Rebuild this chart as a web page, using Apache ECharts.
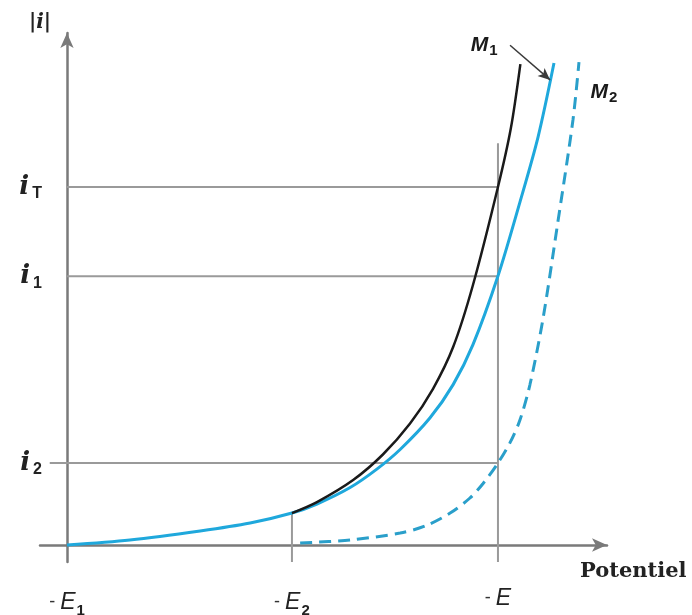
<!DOCTYPE html>
<html>
<head>
<meta charset="utf-8">
<script src="https://cdn.jsdelivr.net/npm/echarts@6/dist/echarts.min.js"></script>
<style>html,body{margin:0;padding:0;background:#fff}#c{width:692px;height:615px}</style>
</head>
<body>
<div id="c"></div>
<script>
// Potential axis: -E1 = 0, -E2 = 5.22, -E = 10 ; current axis 0..100 (arbitrary units)
const xTickValues = [0, 5.22, 10];
const xTickNames = ['E1', 'E2', 'E'];
const yTickValues = [16.1, 52.7, 70.2];
const yTickNames = ['2', '1', 'T'];

// Metal M1 (black), M1 (blue solid), M2 (blue dashed)
const curveBlack = [[5.22,6.27],[5.80,8.43],[6.64,12.75],[7.33,17.75],[7.96,23.82],[8.49,30.59],[8.96,38.82],[9.42,50.98],[10.00,70.20],[10.30,81.76],[10.52,94.31]];
const curveBlue = [[0,0],[1.46,0.98],[3.09,2.75],[4.25,4.31],[5.22,6.27],[5.80,8.04],[6.57,11.27],[7.19,14.88],[7.73,18.73],[8.42,24.90],[8.96,31.45],[9.42,39.29],[10.00,52.75],[10.51,67.25],[10.93,80.0],[11.30,94.51]];
const curveDashed = [[5.41,0.39],[6.57,0.98],[7.73,2.35],[8.31,3.73],[8.89,6.27],[9.35,9.22],[9.65,12.02],[10.00,16.08],[10.28,20.08],[10.51,24.51],[10.74,31.37],[11.04,44.12],[11.39,63.33],[11.74,83.33],[11.88,94.71]];

// guide lines
const guideVE = [[10,-3.33],[10,78.8]];
const guideVE2 = [[5.22,-3.33],[5.22,6.27]];
const guideHT = [[0,70.2],[10,70.2]];
const guideH1 = [[0,52.7],[10,52.7]];
const guideH2 = [[-0.4,16.1],[10,16.1]];

// annotations
const arrowM1 = [[10.28,98.0],[11.21,91.2]];
const labelM1 = [9.68, 98.0];
const labelM2 = [12.46, 88.8];

const chart = echarts.init(document.getElementById('c'), null, {renderer:'canvas'});
const guideStyle = {color:'#9a9a9a', width:2};
function guide(d){ return {type:'line', data:d, symbol:'none', lineStyle:guideStyle, z:1, silent:true}; }

chart.setOption({
  animation:false,
  backgroundColor:'#fff',
  grid:{left:40, right:85, top:33, bottom:53, outerBoundsMode:'none', containLabel:false},
  xAxis:{
    type:'value', min:-0.626, max:12.53,
    splitLine:{show:false},
    axisLine:{onZero:true, symbol:['none','arrow'], symbolSize:[10,15], lineStyle:{color:'#7a7a7a', width:2.5}},
    axisTick:{show:false},
    axisLabel:{
      customValues:xTickValues, margin:25,
      formatter:function(v){ const i = xTickValues.indexOf(v); const n = xTickNames[i]||''; const e = n.charAt(0); const s = n.slice(1); return '{d|- }{e|'+e+'}'+(s?'{s|'+s+'}':''); },
      rich:{
        d:{fontFamily:'Liberation Sans', fontSize:18, color:'#333'},
        e:{fontFamily:'Liberation Sans', fontStyle:'italic', fontSize:23, color:'#222'},
        s:{fontFamily:'Liberation Sans', fontWeight:'bold', fontSize:15, color:'#222', padding:[16,0,0,1]}
      }
    },
    name:'Potentiel', nameLocation:'end', nameGap:-27,
    nameTextStyle:{fontFamily:'DejaVu Serif', fontWeight:'bold', fontSize:21, color:'#222', verticalAlign:'top', padding:[16,0,0,0], align:'left'}
  },
  yAxis:{
    type:'value', min:-3.33, max:100.4,
    splitLine:{show:false},
    axisLine:{onZero:true, symbol:['none','arrow'], symbolSize:[10,15], lineStyle:{color:'#7a7a7a', width:2.5}},
    axisTick:{show:false},
    axisLabel:{
      customValues:yTickValues, margin:-2,
      formatter:function(v){ const i = yTickValues.indexOf(v); return '{i|i}{s|'+(yTickNames[i]||'')+'}'; },
      rich:{
        i:{fontFamily:'DejaVu Serif', fontStyle:'italic', fontWeight:'bold', fontSize:26, color:'#222'},
        s:{fontFamily:'Liberation Sans', fontWeight:'bold', fontSize:16, color:'#222', padding:[14,0,0,3]}
      }
    },
    name:'|i|', nameLocation:'end', nameGap:0,
    nameTextStyle:{fontFamily:'DejaVu Serif', fontStyle:'italic', fontWeight:'bold', fontSize:20, color:'#222', padding:[0,54,0,0]}
  },
  series:[
    guide(guideVE), guide(guideVE2), guide(guideHT), guide(guideH1), guide(guideH2),
    {type:'line', name:'M2', data:curveDashed, symbol:'none', smooth:0.3,
      lineStyle:{color:'#2a9fca', width:3, type:[12,7]}, z:3},
    {type:'line', name:'M1 blue', data:curveBlue, symbol:'none', smooth:0.3,
      lineStyle:{color:'#1fa8dc', width:3}, z:4},
    {type:'line', name:'M1 black', data:curveBlack, symbol:'none', smooth:0.3,
      lineStyle:{color:'#1a1a1a', width:2.5}, z:5},
    {type:'scatter', data:[labelM1, labelM2], symbolSize:0, z:6, silent:true,
      itemStyle:{color:'#1a1a1a', opacity:1},
      label:{show:true, position:'inside', color:'#1a1a1a', textBorderWidth:0,
        formatter:function(p){ return '{m|M}{s|'+(p.dataIndex===0?'1':'2')+'}'; },
        rich:{
          m:{fontFamily:'Liberation Sans', fontStyle:'italic', fontWeight:'bold', fontSize:21, color:'#1a1a1a', textBorderWidth:0},
          s:{fontFamily:'Liberation Sans', fontWeight:'bold', fontSize:15, color:'#1a1a1a', textBorderWidth:0, padding:[12,0,0,1]}
        }},
      markLine:{silent:true, symbol:['none','arrow'], symbolSize:[8,12], label:{show:false},
        lineStyle:{color:'#3a3a3a', width:1.5, type:'solid'},
        data:[[{coord:arrowM1[0]},{coord:arrowM1[1]}]]}
    }
  ]
});
</script>
</body>
</html>
